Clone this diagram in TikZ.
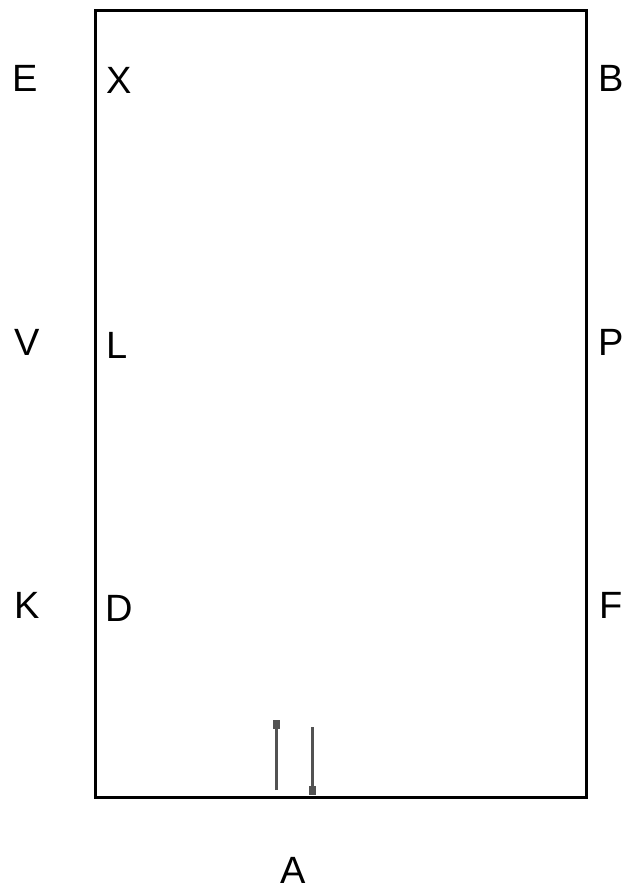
\documentclass[tikz,border=0pt]{standalone}
\usepackage{fontspec}
\setmainfont{Liberation Sans}
\usetikzlibrary{arrows.meta}
\begin{document}
\begin{tikzpicture}[x=1pt,y=-1pt,
  lbl/.style={inner sep=0pt,font=\fontsize{38}{42}\selectfont},
  arr/.style={draw=black!68,line width=3pt,-{Rectangle[width=7pt,length=9pt]}}]
\useasboundingbox (0,0) rectangle (628,892);
\node[draw,line width=2.6pt,minimum width=491pt,minimum height=787pt,anchor=north west,inner sep=0pt] (box) at (94,9) {};
\node[lbl] (E) at (25,78) {E};
\node[lbl] (X) at (119,80) {X};
\node[lbl] (B) at (611,78) {B};
\node[lbl] (V) at (27,342) {V};
\node[lbl] (L) at (117,345) {L};
\node[lbl] (P) at (611,342) {P};
\node[lbl] (K) at (27,605) {K};
\node[lbl] (D) at (119,608) {D};
\node[lbl] (F) at (611,605) {F};
\node[lbl] (A) at (293,870) {A};
\coordinate (a1s) at (276,790);
\coordinate (a1e) at (276,720);
\coordinate (a2s) at (312,727);
\coordinate (a2e) at (312,795);
\draw[arr] (a1s) -- (a1e);
\draw[arr] (a2s) -- (a2e);
\end{tikzpicture}
\end{document}
